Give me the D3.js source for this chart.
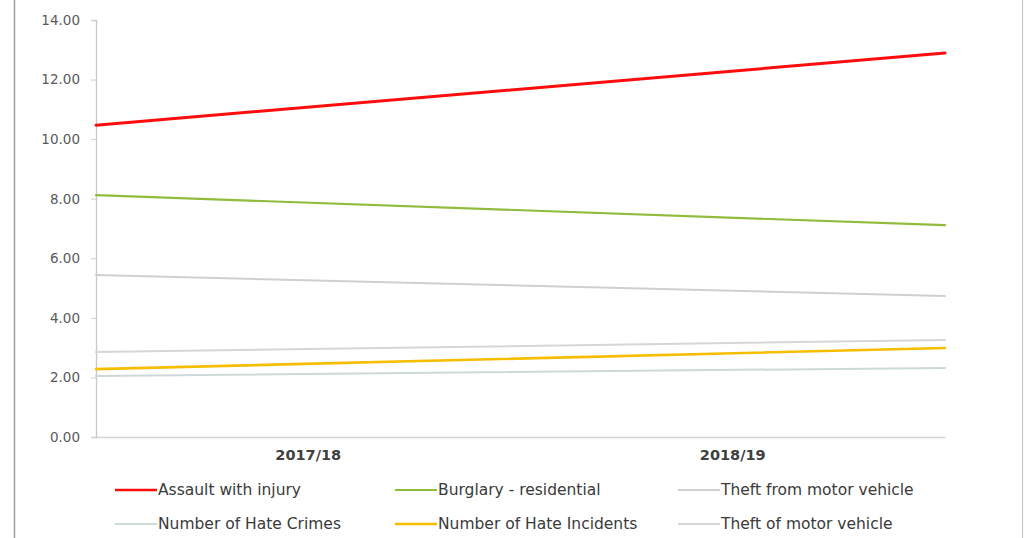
<!DOCTYPE html>
<html>
<head>
<meta charset="utf-8">
<script src="https://cdn.jsdelivr.net/npm/d3@7"></script>
<style>
  html, body { margin: 0; padding: 0; background: #fff; }
  svg { display: block; }
</style>
</head>
<body>
<svg id="chart" width="1026" height="538"></svg>
<script>
// Financial years on the category axis
const years = ["2017/18", "2018/19"];

// Rates per series, one value per year
const assaultWithInjury = [10.47, 12.89];
const burglaryResidential = [8.12, 7.11];
const theftFromMotorVehicle = [5.44, 4.73];
const hateCrimes = [2.05, 2.32];
const hateIncidents = [2.28, 2.99];
const theftOfMotorVehicle = [2.85, 3.26];

// Y-axis tick values
const yTicks = [0, 2, 4, 6, 8, 10, 12, 14];

const series = [
  { name: "Assault with injury", values: assaultWithInjury, color: "#ff0d0d", width: 3 },
  { name: "Burglary - residential", values: burglaryResidential, color: "#8fbc3c", width: 2.2 },
  { name: "Theft from motor vehicle", values: theftFromMotorVehicle, color: "#cfcfcf", width: 2 },
  { name: "Number of Hate Crimes", values: hateCrimes, color: "#cdd8d8", width: 2 },
  { name: "Number of Hate Incidents", values: hateIncidents, color: "#f7bd00", width: 2.6 },
  { name: "Theft of motor vehicle", values: theftOfMotorVehicle, color: "#d6d6d6", width: 2 }
];

const FONT = "'DejaVu Sans', Verdana, sans-serif";
const svg = d3.select("#chart");
const plot = { left: 96, right: 945, top: 20, bottom: 437 };

// chart frame edges
svg.append("line").attr("x1", 14.5).attr("x2", 14.5).attr("y1", 0).attr("y2", 538)
  .attr("stroke", "#a0a0a0").attr("stroke-width", 1.5);
svg.append("line").attr("x1", 1022.5).attr("x2", 1022.5).attr("y1", 0).attr("y2", 538)
  .attr("stroke", "#c8c8c8").attr("stroke-width", 1.2);

const y = d3.scaleLinear().domain([0, 14]).range([plot.bottom, plot.top]);
const xLine = d3.scalePoint().domain(years).range([plot.left, plot.right]);
const xBand = d3.scaleBand().domain(years).range([plot.left, plot.right]);

// y axis
const yAxis = svg.append("g").attr("transform", `translate(${plot.left},0)`)
  .call(d3.axisLeft(y).tickValues(yTicks).tickFormat(d3.format(".2f")).tickSize(5).tickPadding(11));
yAxis.select(".domain").attr("stroke", "#c8c8c8").attr("stroke-width", 1.3);
yAxis.selectAll(".tick line").attr("stroke", "#cfcfcf");
yAxis.selectAll(".tick text")
  .attr("font-family", FONT).attr("font-size", 13.5).attr("fill", "#5a5a5a");

// x axis
const xAxis = svg.append("g").attr("transform", `translate(0,${plot.bottom})`)
  .call(d3.axisBottom(xBand).tickSize(0).tickPadding(13));
xAxis.select(".domain").attr("stroke", "#d4d4d4").attr("stroke-width", 1.3);
xAxis.selectAll(".tick text")
  .attr("font-family", FONT).attr("font-size", 14.5).attr("font-weight", "bold")
  .attr("fill", "#404040");

// series lines
const line = d3.line().x((d, i) => xLine(years[i])).y(d => y(d));
svg.append("g").selectAll("path").data(series).join("path")
  .attr("d", d => line(d.values))
  .attr("fill", "none")
  .attr("stroke", d => d.color)
  .attr("stroke-width", d => d.width)
  .attr("stroke-linecap", "round");

// legend, three columns by two rows
const legendCols = [115, 395, 678];
const legendRows = [490, 524];
const legend = svg.append("g").selectAll("g").data(series).join("g")
  .attr("transform", (d, i) => `translate(${legendCols[i % 3]},${legendRows[Math.floor(i / 3)]})`);
legend.append("line").attr("x1", 0).attr("x2", 42).attr("y1", 0).attr("y2", 0)
  .attr("stroke", d => d.color).attr("stroke-width", d => Math.min(d.width, 2.6));
legend.append("text").attr("x", 43).attr("y", 0).attr("dy", "0.35em")
  .attr("font-family", FONT).attr("font-size", 15.5)
  .attr("fill", "#3a3a3a").text(d => d.name);
</script>
</body>
</html>
